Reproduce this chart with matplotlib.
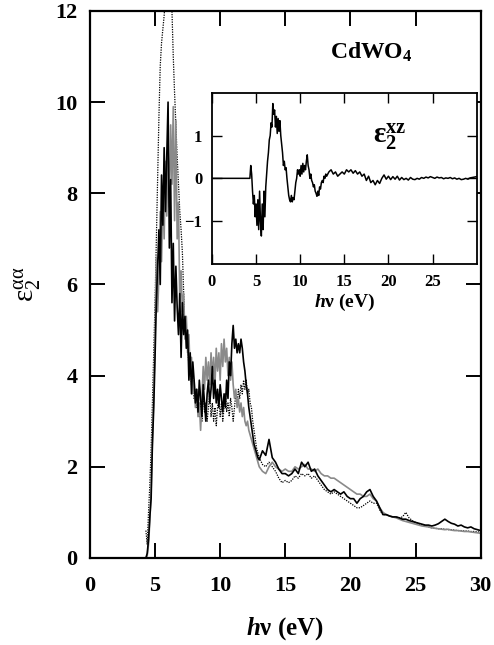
import numpy as np
import matplotlib
matplotlib.use("Agg")
import matplotlib.pyplot as plt

plt.rcParams["font.family"] = ["Liberation Serif", "DejaVu Serif"]
plt.rcParams["font.weight"] = "bold"
plt.rcParams["axes.labelweight"] = "bold"
plt.rcParams["mathtext.fontset"] = "custom"
plt.rcParams["mathtext.rm"] = "Liberation Serif:weight=bold"
plt.rcParams["mathtext.sf"] = "Liberation Serif:weight=normal"
plt.rcParams["mathtext.it"] = "Liberation Serif:italic"
plt.rcParams["mathtext.bf"] = "Liberation Serif:weight=bold"
plt.rcParams["mathtext.bfit"] = "Liberation Serif:italic:weight=bold"

# energy grid (eV): fine steps through the absorption edge, coarser above 13 eV
energy_fine = np.round(np.arange(4.3, 12.95, 0.1), 2)
energy_coarse = np.arange(13.0, 30.01, 0.25)
energy = np.concatenate([energy_fine, energy_coarse])

# eps2 components
eps_black = [
    0.0, 0.1, 0.4, 0.9, 1.3, 2.5, 3.3, 4.4, 5.6, 6.4,
    7.2, 6.0, 8.4, 7.3, 9.0, 7.6, 8.8, 10.0, 6.8, 8.3,
    5.6, 6.9, 5.2, 6.4, 5.5, 4.9, 5.8, 4.4, 5.6, 4.9,
    5.3, 4.6, 5.0, 3.9, 4.5, 3.6, 4.3, 3.9, 3.4, 3.7,
    3.2, 3.9, 3.5, 3.1, 3.8, 3.4, 3.0, 3.6, 3.9, 3.4,
    3.7, 4.2, 3.5, 3.9, 3.4, 3.7, 3.3, 3.8, 3.5, 3.2,
    3.6, 3.3, 3.9, 3.5, 4.3, 4.0, 4.7, 5.1, 4.6, 4.8,
    4.5, 4.7, 4.5, 4.8, 4.6, 4.3, 4.1, 3.8, 3.6, 3.3,
    3.1, 2.9, 2.7, 2.5, 2.4, 2.3, 2.2,
    2.15, 2.35, 2.25, 2.6, 2.2, 2.1, 1.95, 1.85, 1.85, 1.8,
    1.85, 1.95, 1.85, 2.1, 2.0, 2.1, 1.9, 1.95, 1.8, 1.7,
    1.6, 1.5, 1.45, 1.5, 1.45, 1.4, 1.45, 1.35, 1.3, 1.3,
    1.2, 1.3, 1.35, 1.45, 1.5, 1.35, 1.25, 1.1, 0.95, 0.95,
    0.92, 0.9, 0.9, 0.88, 0.85, 0.85, 0.82, 0.8, 0.78, 0.76,
    0.74, 0.72, 0.72, 0.7, 0.72, 0.75, 0.8, 0.85, 0.8, 0.76,
    0.74, 0.7, 0.72, 0.68, 0.66, 0.68, 0.64, 0.62, 0.6,
]
eps_gray = [
    0.0, 0.05, 0.3, 0.8, 1.5, 2.6, 3.6, 4.8, 6.6, 5.4,
    6.2, 7.6, 6.5, 8.0, 7.0, 8.7, 7.5, 9.0, 7.7, 9.5,
    8.2, 9.9, 7.4, 9.6, 7.0, 7.8, 5.6, 6.3, 5.4, 5.8,
    4.8, 5.3, 4.5, 4.9, 4.0, 4.4, 3.6, 3.9, 3.3, 3.7,
    3.1, 3.4, 2.8, 3.5, 4.2, 3.7, 4.4, 3.9, 4.3, 3.8,
    4.5, 4.0, 4.4, 3.8, 4.6, 4.1, 4.5, 3.9, 4.7, 4.2,
    4.8, 4.3, 4.6, 4.0, 4.4, 3.9, 4.3, 3.8, 3.5, 3.7,
    3.3, 3.5, 3.2, 3.4, 3.1, 3.3, 3.0, 2.9, 3.0, 2.8,
    2.7, 2.6, 2.5, 2.4, 2.3, 2.2, 2.1,
    2.0, 1.9, 1.85, 2.0, 2.1, 2.0, 1.95, 1.9, 1.95, 1.9,
    1.9, 2.0, 1.95, 2.0, 2.05, 1.95, 1.95, 1.9, 1.95, 1.85,
    1.8, 1.8, 1.75, 1.75, 1.7, 1.65, 1.6, 1.55, 1.5, 1.45,
    1.4, 1.4, 1.35, 1.35, 1.4, 1.3, 1.25, 1.1, 1.0, 0.95,
    0.92, 0.9, 0.88, 0.85, 0.82, 0.8, 0.78, 0.76, 0.74, 0.72,
    0.7, 0.69, 0.68, 0.66, 0.65, 0.64, 0.63, 0.62, 0.63, 0.61,
    0.6, 0.6, 0.59, 0.58, 0.58, 0.57, 0.56, 0.55, 0.54,
]
eps_dotted = [
    0.6, 0.3, 1.0, 1.6, 2.4, 3.4, 4.5, 5.6, 7.0, 8.4,
    9.7, 10.8, 11.3, 11.6, 11.9, 12.3, 13.0, 13.5, 13.4, 12.8,
    12.0, 11.0, 10.2, 9.5, 8.8, 8.2, 7.6, 7.2, 6.7, 5.8,
    4.9, 5.0, 4.7, 4.2, 4.4, 3.8, 4.0, 3.5, 3.7, 3.3,
    3.5, 3.1, 3.4, 3.0, 3.6, 3.2, 3.4, 3.0, 3.3, 3.6,
    3.1, 3.4, 3.0, 3.3, 2.9, 3.3, 3.5, 3.1, 3.4, 3.0,
    3.3, 3.6, 3.2, 3.4, 3.1, 3.5, 3.3, 3.0, 3.3, 3.6,
    3.4, 3.7, 3.5, 3.8, 3.6, 3.9, 3.7, 3.9, 3.6, 3.7,
    3.4, 3.3, 3.0, 2.8, 2.6, 2.4, 2.3,
    2.2, 2.05, 2.0, 2.1, 2.0, 1.9, 1.75, 1.65, 1.7, 1.65,
    1.7, 1.8, 1.75, 1.85, 1.8, 1.85, 1.75, 1.8, 1.7, 1.6,
    1.5, 1.45, 1.4, 1.45, 1.4, 1.35, 1.3, 1.25, 1.2, 1.15,
    1.1, 1.1, 1.15, 1.2, 1.25, 1.2, 1.2, 1.05, 0.95, 0.95,
    0.92, 0.9, 0.9, 0.88, 0.9, 1.0, 0.88, 0.82, 0.78, 0.75,
    0.72, 0.7, 0.68, 0.66, 0.65, 0.64, 0.64, 0.63, 0.62, 0.62,
    0.61, 0.6, 0.6, 0.59, 0.59, 0.58, 0.58, 0.57, 0.57,
]
# off-diagonal eps2^xz (inset), zero below the edge
eps_xz = [
    0.0, 0.3, 0.1, -0.3, -0.6, -0.4, -0.9, -0.6, -1.1, -0.5,
    -1.2, -0.3, -1.0, -1.35, -0.6, -1.2, -0.3, -0.9, -0.2, 0.1,
    0.4, 0.6, 0.9, 1.0, 1.3, 1.2, 1.75, 1.5, 1.6, 1.2,
    1.45, 1.05, 1.4, 1.1, 1.35, 1.0, 0.8, 0.6, 0.3, 0.4,
    0.2, 0.25, 0.0, -0.2, -0.4, -0.5, -0.55, -0.4, -0.55, -0.45,
    -0.5, -0.3, -0.1, 0.0, 0.2, 0.1, 0.2, 0.05, 0.3, 0.1,
    0.35, 0.15, 0.3, 0.2, 0.4, 0.55, 0.3, 0.2, 0.0, 0.1,
    -0.05, -0.1, -0.2, -0.15, -0.3, -0.35, -0.42, -0.3, -0.4, -0.2,
    -0.25, -0.1, -0.05, -0.1, 0.05, 0.0, 0.1,
    0.05, 0.15, 0.2, 0.1, 0.15, 0.05, 0.1, 0.15, 0.1, 0.2,
    0.15, 0.2, 0.12, 0.18, 0.1, 0.15, 0.05, 0.1, -0.05, 0.05,
    -0.1, -0.05, -0.15, -0.05, -0.12, 0.0, 0.08, -0.02, 0.05, -0.03,
    0.04, -0.02, 0.05, -0.04, 0.02, -0.03, 0.0, -0.04, 0.02, -0.02,
    -0.03, 0.0, -0.02, 0.02, 0.0, 0.03, 0.01, 0.04, 0.02, 0.0,
    0.03, 0.01, 0.02, -0.01, 0.01, 0.0, 0.02, -0.01, 0.01, -0.02,
    0.0, -0.03, -0.02, 0.0, -0.02, 0.01, 0.02, 0.03, 0.04,
]
inset_energy = np.concatenate([[0.0], energy])
inset_eps = [0.0] + eps_xz

fig = plt.figure(figsize=(4.94, 6.45), dpi=100)
ax = fig.add_axes([0.182, 0.135, 0.791, 0.848])

ax.plot(energy, eps_dotted, color="black", lw=0.9, ls=(0, (1, 1)))
ax.plot(energy, eps_gray, color="#8a8a8a", lw=1.2)
ax.plot(energy, eps_black, color="black", lw=1.2)

ax.set_xlim(0, 30)
ax.set_ylim(0, 12)
ax.set_xticks([0, 5, 10, 15, 20, 25, 30])
ax.set_yticks([0, 2, 4, 6, 8, 10, 12])
ax.tick_params(direction="in", length=11, width=1.4, top=True, right=True,
               labelsize=16, pad=9)
ax.tick_params(axis="x", pad=13)
for s in ax.spines.values():
    s.set_linewidth(1.6)
ax.set_xlabel(r"$\mathbfit{h}$ν (eV)", fontsize=18, labelpad=14)
ax.set_ylabel(r"$\mathsf{ε}_\mathsf{2}^{\mathsf{αα}}$", fontsize=21, labelpad=8)
ax.text(0.72, 0.925, r"CdWO$_\mathbf{4}$", transform=ax.transAxes,
        fontsize=17, ha="center", va="center")

ins = fig.add_axes([0.429, 0.591, 0.536, 0.265])
ins.plot(inset_energy, inset_eps, color="black", lw=1.1)
ins.set_xlim(0, 30)
ins.set_ylim(-2, 2)
ins.set_xticks([0, 5, 10, 15, 20, 25])
ins.set_yticks([-1, 0, 1])
ins.tick_params(direction="in", length=7, width=1.0, top=True, right=True,
                labelsize=12, pad=7)
for s in ins.spines.values():
    s.set_linewidth(1.3)
ins.set_xlabel(r"$\mathbfit{h}$ν (eV)", fontsize=14, labelpad=2)
ins.text(0.67, 0.74, r"$\mathbf{ε}_\mathbf{2}^{\mathbf{xz}}$", transform=ins.transAxes,
         fontsize=21, ha="center", va="center")

fig.savefig("out.png", dpi=100)
